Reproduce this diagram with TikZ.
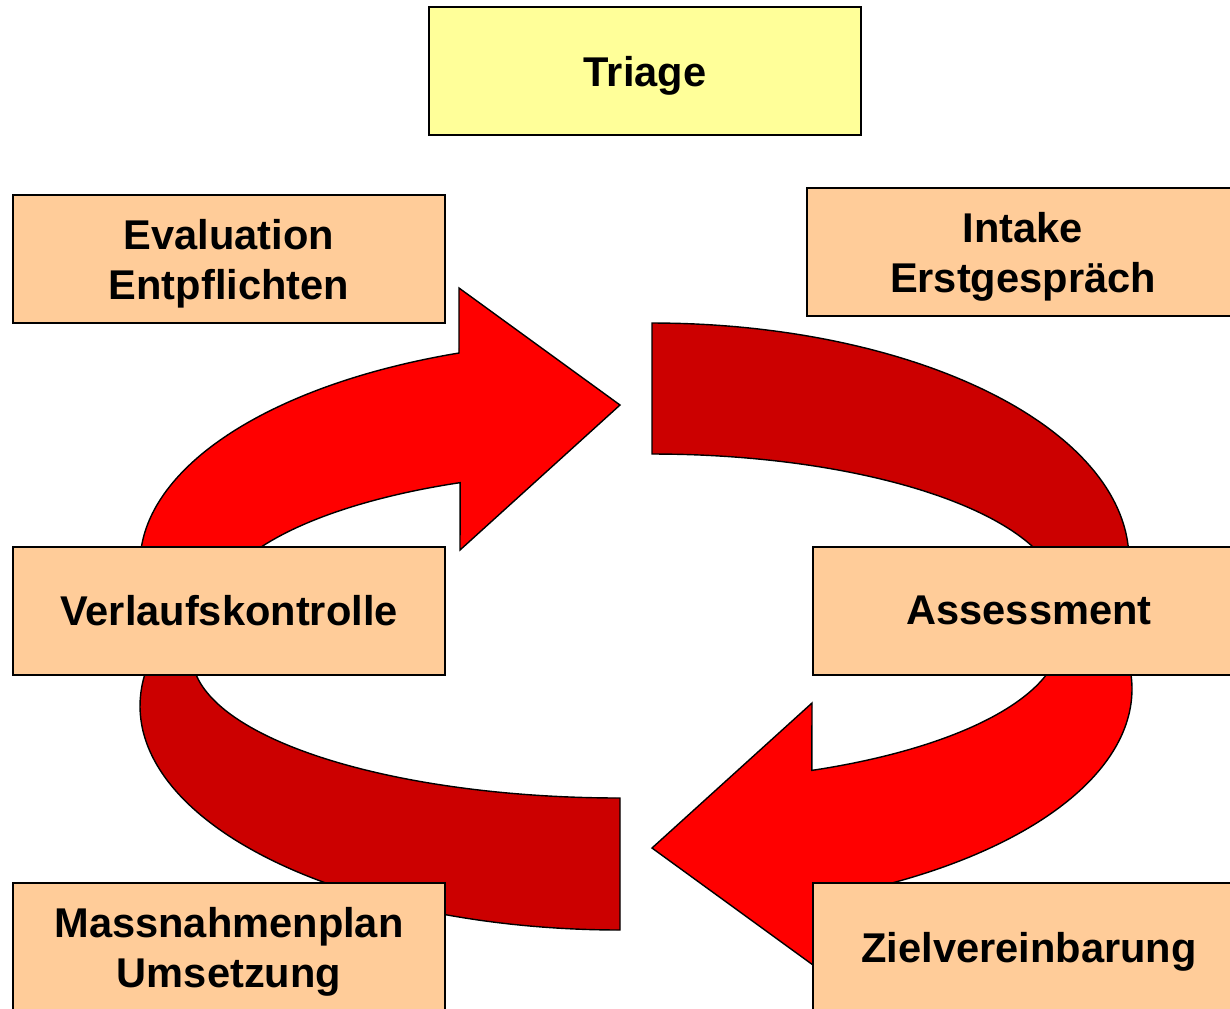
\documentclass[tikz,border=0pt]{standalone}
\usepackage{fontspec}
\setmainfont{Liberation Sans}
\usetikzlibrary{backgrounds}

\definecolor{peach}{HTML}{FFCC99}
\definecolor{paleyellow}{HTML}{FFFF99}
\definecolor{brightred}{HTML}{FF0000}
\definecolor{darkred}{HTML}{CC0000}

\begin{document}
\begin{tikzpicture}[
    x=0.5pt, y=-0.5pt,
    font=\fontsize{20.8}{25}\selectfont\bfseries,
    stage/.style={draw, line width=1pt, fill=peach, minimum width=216pt, minimum height=64pt,
                  align=center, inner sep=0pt, text depth=0pt},
    top/.style={stage, fill=paleyellow},
    bright/.style={draw, line width=0.7pt, fill=brightred},
    dark/.style={draw, line width=0.7pt, fill=darkred},
    curve/.style={domain=#1, samples=60, smooth},
]
\useasboundingbox (0,0) rectangle (1230,1008);
\clip (0,0) rectangle (1230,1008);

% =====================  STAGES  =====================
\node[top]   (triage)     at (645,71)    {Triage};
\node[stage] (evaluation) at (229,259)   {Evaluation\\Entpflichten};
\node[stage] (intake)     at (1023,252)  {Intake\\Erstgespräch};
\node[stage] (verlauf)    at (229,610.5) {Verlaufskontrolle};
\node[stage] (assessment) at (1029,610.5){Assessment};
\node[stage] (massnahmen) at (229,947)   {Massnahmenplan\\Umsetzung};
\node[stage] (ziel)       at (1029,947)  {Zielvereinbarung};

% =====================  CYCLE ARROWS  =====================
\begin{scope}[on background layer]
  % upper left, pointing right
  \draw[bright] plot[curve=200:109.6] ({620+480*cos(\x)},{564-224*sin(\x)})
    -- (459,288) -- (620,405) -- (460,550)
    -- plot[curve=113:200] ({620+409*cos(\x)},{617-146*sin(\x)}) -- cycle;
  % upper right, flat end
  \draw[dark] plot[curve=90:-10] ({652+477*cos(\x)},{560-237*sin(\x)})
    -- plot[curve=-10:90] ({652+409*cos(\x)},{600-146*sin(\x)}) -- cycle;
  % lower right, pointing left
  \draw[bright] plot[curve=200:109.6] ({652-480*cos(\x)},{689+224*sin(\x)})
    -- (813,965) -- (652,848) -- (812,703)
    -- plot[curve=113:200] ({652-409*cos(\x)},{636+146*sin(\x)}) -- cycle;
  % lower left, flat end
  \draw[dark] plot[curve=90:-20] ({620-480*cos(\x)},{706+224*sin(\x)})
    -- plot[curve=-20:90] ({620-428*cos(\x)},{655+143*sin(\x)}) -- cycle;
\end{scope}

\end{tikzpicture}
\end{document}
